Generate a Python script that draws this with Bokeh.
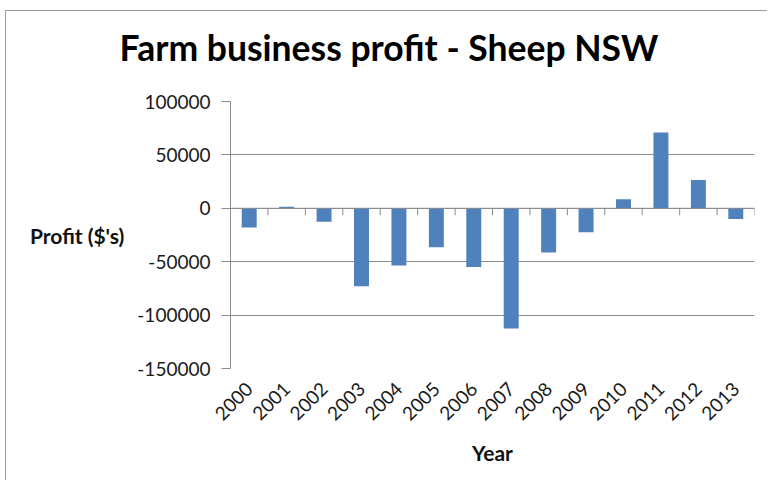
from math import pi
from bokeh.plotting import figure
from bokeh.models import Range1d, FixedTicker, Title
from bokeh.embed import file_html
from bokeh.resources import INLINE

years = ["2000", "2001", "2002", "2003", "2004", "2005", "2006",
         "2007", "2008", "2009", "2010", "2011", "2012", "2013"]
profit = [-18000, 1500, -12500, -73000, -53500, -36500, -55000,
          -112500, -41500, -22500, 8500, 71000, 26500, -10000]
y_ticks = [-150000, -100000, -50000, 0, 50000, 100000]
title_text = "Farm business profit - Sheep NSW"
x_label = "Year"
y_label = "Profit ($'s)"

BAR = "#4F81BD"
GRID = "#8c8c8c"
FONT = "Lato"

n = len(years)
xs = [i + 0.5 for i in range(n)]
ymin, ymax = min(y_ticks), max(y_ticks)

# canvas origin sits at page (6, 11) because of the margin + 1px border below
OX, OY = 6, 11
W, H = 762, 470
FL, FR, FT, FB = 230, 754, 101, 368   # frame edges on the page
p = figure(width=W, height=H, x_range=Range1d(0, n), y_range=Range1d(ymin, ymax),
           output_backend="svg", toolbar_location=None, title=title_text,
           min_border_left=FL - OX, min_border_right=W - (FR - OX),
           min_border_top=FT - OY, min_border_bottom=H - (FB - OY))
p.outline_line_color = None
p.background_fill_color = "white"
p.border_fill_color = "white"
p.styles = {"border-top": "1px solid #9a9a9a", "border-left": "1px solid #9a9a9a",
            "margin-top": "10px", "margin-left": "5px"}

# thin spacer panel between the frame and the title
spacer = Title(text=" ", text_font_size="1px", standoff=30)
p.add_layout(spacer, "above")

p.title.text_font = FONT
p.title.text_font_style = "bold"
p.title.text_font_size = "35.5px"
p.title.text_color = "black"
p.title.align = "left"
p.title.offset = -111
p.title.standoff = 0

p.xgrid.grid_line_color = None
p.ygrid.grid_line_color = GRID
p.ygrid.ticker = FixedTicker(ticks=y_ticks)

p.vbar(x=xs, top=profit, bottom=0, width=0.4, fill_color=BAR, line_color=None)

# zero line with category-boundary ticks
tick_len = (ymax - ymin) * 7 / 267
bounds = list(range(n + 1))
p.segment(x0=[0], x1=[n], y0=[0], y1=[0], line_color=GRID, line_width=1)
p.segment(x0=bounds, x1=bounds, y0=[0] * len(bounds), y1=[-tick_len] * len(bounds),
          line_color=GRID, line_width=1)

ya = p.yaxis[0]
ya.ticker = FixedTicker(ticks=y_ticks)
ya.major_label_overrides = {v: str(v) for v in y_ticks}
ya.axis_line_color = GRID
ya.major_tick_line_color = GRID
ya.major_tick_out = 9
ya.major_tick_in = 0
ya.minor_tick_line_color = None
ya.major_label_standoff = 11
ya.major_label_text_font = FONT
ya.major_label_text_font_size = "19px"
ya.major_label_text_color = "#1a1a1a"
ya.axis_label = y_label
ya.axis_label_orientation = "horizontal"
ya.axis_label_text_font = FONT
ya.axis_label_text_font_style = "bold"
ya.axis_label_text_font_size = "21px"
ya.axis_label_text_color = "#111111"
ya.axis_label_standoff = 10

xa = p.xaxis[0]
xa.ticker = FixedTicker(ticks=xs)
xa.major_label_overrides = {x: y for x, y in zip(xs, years)}
xa.major_label_orientation = pi / 4
xa.axis_line_color = None
xa.major_tick_line_color = None
xa.minor_tick_line_color = None
xa.major_label_standoff = 11
xa.major_label_text_font = FONT
xa.major_label_text_font_size = "19px"
xa.major_label_text_color = "#1a1a1a"
xa.axis_label = x_label
xa.axis_label_text_font = FONT
xa.axis_label_text_font_style = "bold"
xa.axis_label_text_font_size = "21px"
xa.axis_label_text_color = "#111111"
xa.axis_label_standoff = 10

open("out.html", "w").write(file_html(p, INLINE))
